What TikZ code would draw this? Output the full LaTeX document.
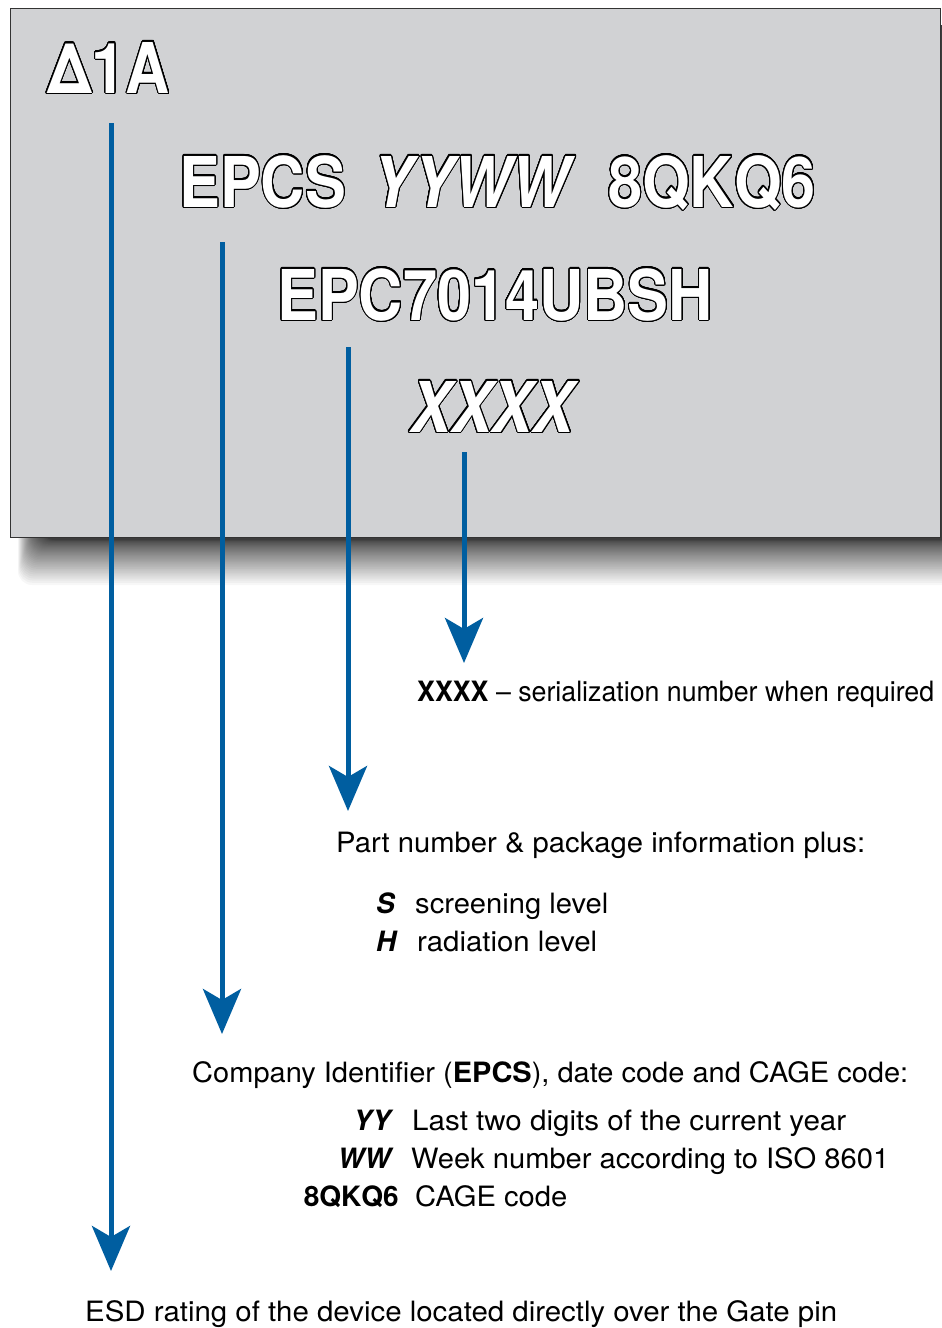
\documentclass[tikz,border=0pt]{standalone}
\usepackage{fontspec}
\setmainfont{TeX Gyre Heros}
\usepackage{contour}
\contournumber{40}
\contourlength{1.1pt}
\usetikzlibrary{arrows.meta}
\definecolor{arrowblue}{RGB}{0,94,160}
\definecolor{plate}{RGB}{209,210,212}
\newcommand{\outl}[1]{\scalebox{0.875}[1]{\contour{black}{\textcolor{white}{#1}}}}
\newcommand{\fitw}[2]{\resizebox{#1}{\height}{#2}}
\tikzset{
  outtext/.style={anchor=base west, inner sep=0pt, font=\fontsize{70}{70}\selectfont\bfseries},
  txt/.style={anchor=base west, inner sep=0pt, font=\fontsize{28}{34}\selectfont},
  keytxt/.style={anchor=base east, inner sep=0pt, font=\fontsize{28}{34}\selectfont\bfseries},
  pointer/.style={draw=arrowblue, line width=5pt, -{Stealth[length=45pt,width=38pt,inset=11pt]}},
}
\begin{document}
\begin{tikzpicture}[x=1pt,y=-1pt]
\useasboundingbox (0,0) rectangle (942,1328);
\fill[white] (0,0) rectangle (942,1328);
% shadow
\foreach \k in {0,...,39}{
  \pgfmathsetmacro\bb{540+45*(1-\k/40)^2}
  \fill[black,opacity=0.031,rounded corners=14pt] ({18+0.6*\k},{25}) rectangle ({990-0.5*\k},{\bb});
}
% plate
\node[draw=black!80, fill=plate, line width=1.2pt, minimum width=930pt, minimum height=529pt, anchor=north west, inner sep=0pt] (plate) at (10,8) {};
% marking text
\node[outtext] (esdmark) at (47,93) {\outl{Δ1A}};
\node[outtext] (epcs) at (179,207) {\outl{EPCS}};
\node[outtext] (yyww) at (372,207) {\outl{\itshape YYWW}};
\node[outtext] (cage) at (608,207) {\outl{8QKQ6}};
\node[outtext] (part) at (277,320) {\outl{EPC7014UBSH}};
\node[outtext] (serial) at (410,432) {\outl{\itshape XXXX}};
% arrow ends
\coordinate (a1s) at (111,123); \coordinate (a1e) at (111,1271);
\coordinate (a2s) at (222,242); \coordinate (a2e) at (222,1034);
\coordinate (a3s) at (348,347); \coordinate (a3e) at (348,811);
\coordinate (a4s) at (464,452); \coordinate (a4e) at (464,663);
\draw[pointer] (a1s) -- (a1e);
\draw[pointer] (a2s) -- (a2e);
\draw[pointer] (a3s) -- (a3e);
\draw[pointer] (a4s) -- (a4e);
% descriptions
\node[txt] (serialdesc) at (417,701) {\fitw{517pt}{\textbf{XXXX} – serialization number when required}};
\node[txt] (partdesc) at (336,852) {\fitw{529pt}{Part number \& package information plus:}};
\node[txt] (skey) at (376,913) {\bfseries\itshape S};
\node[txt] (sdesc) at (415,913) {\fitw{193pt}{screening level}};
\node[txt] (hkey) at (376,951) {\bfseries\itshape H};
\node[txt] (hdesc) at (417,951) {\fitw{180pt}{radiation level}};
\node[txt] (compdesc) at (192,1082) {\fitw{716pt}{Company Identifier (\textbf{EPCS}), date code and CAGE code:}};
\node[keytxt] (yykey) at (391,1130) {\itshape YY};
\node[txt] (yydesc) at (412,1130) {\fitw{434pt}{Last two digits of the current year}};
\node[keytxt] (wwkey) at (391,1168) {\itshape WW};
\node[txt] (wwdesc) at (411,1168) {\fitw{478pt}{Week number according to ISO 8601}};
\node[keytxt] (cagekey) at (399,1206) {8QKQ6};
\node[txt] (cagedesc) at (415,1206) {\fitw{152pt}{CAGE code}};
\node[txt] (esddesc) at (85,1321) {\fitw{752pt}{ESD rating of the device located directly over the Gate pin}};
\end{tikzpicture}
\end{document}
